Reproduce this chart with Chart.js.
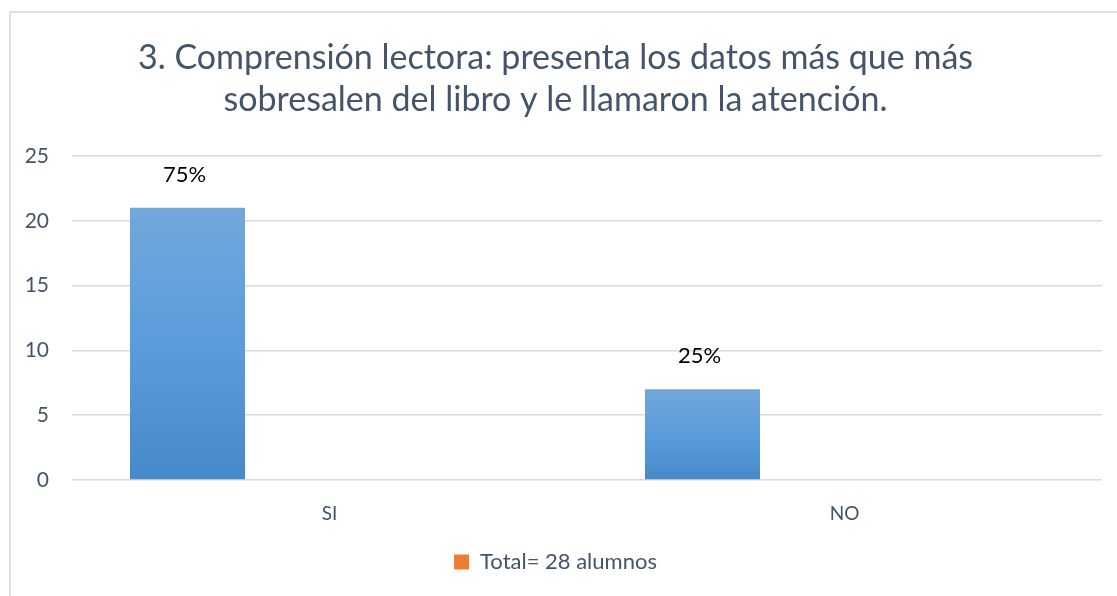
<!DOCTYPE html>
<html>
<head>
<meta charset="utf-8">
<script src="https://cdn.jsdelivr.net/npm/chart.js@4.4.1/dist/chart.umd.min.js"></script>
<style>
  html, body { margin: 0; padding: 0; background: #fff; overflow: hidden; width: 1117px; height: 596px; }
  #frame { position: absolute; left: 9px; top: 11px; width: 1120px; height: 600px; border-left: 2px solid #dde1e6; border-top: 2px solid #dde1e6; box-sizing: border-box; }
  #wrap { position: absolute; left: 9px; top: 11px; width: 1108px; height: 585px; }
</style>
</head>
<body>
<div id="frame"></div>
<div id="wrap"><canvas id="c"></canvas></div>
<script>
const titleLines = ["3. Comprensión lectora: presenta los datos más que más", "sobresalen del libro y le llamaron la atención."];
const categories = ["SI", "NO"];
const respuestas = [21, 7];
const porcentajes = ["75%", "25%"];
const totalLabel = "Total= 28 alumnos";
const totalValues = [null, null];
const yTicks = [0, 5, 10, 15, 20, 25];

const FONT = "Lato, 'Open Sans', sans-serif";
const TEXT = "#44546a";

function barGradient(context) {
  const chart = context.chart;
  const area = chart.chartArea;
  if (!area) return "#5b9bd5";
  const y = chart.scales.y;
  const v = context.raw;
  if (v == null) return "#5b9bd5";
  const top = y.getPixelForValue(v);
  const bottom = y.getPixelForValue(0);
  const g = chart.ctx.createLinearGradient(0, top, 0, bottom);
  g.addColorStop(0, "#72a7db");
  g.addColorStop(0.5, "#5a9cdc");
  g.addColorStop(1, "#4689c8");
  return g;
}

const labelPlugin = {
  id: "pctLabels",
  afterDatasetsDraw(chart) {
    const meta = chart.getDatasetMeta(0);
    const ctx = chart.ctx;
    ctx.save();
    ctx.font = "22px " + FONT;
    ctx.fillStyle = "#000";
    ctx.textAlign = "center";
    ctx.textBaseline = "middle";
    meta.data.forEach((bar, i) => {
      ctx.fillText(porcentajes[i], bar.x - 3, bar.y - 33);
    });
    ctx.restore();
  }
};

new Chart(document.getElementById("c"), {
  type: "bar",
  data: {
    labels: categories,
    datasets: [
      { label: "Respuestas", data: respuestas, backgroundColor: barGradient, borderWidth: 0 },
      { label: totalLabel, data: totalValues, backgroundColor: "#ed7d31", borderWidth: 0 }
    ]
  },
  options: {
    responsive: true,
    maintainAspectRatio: false,
    animation: false,
    categoryPercentage: 1.103,
    barPercentage: 0.405,
    layout: { padding: { left: 0, right: 15, top: 0, bottom: 13 } },
    plugins: {
      tooltip: { enabled: false },
      title: {
        display: true,
        text: titleLines,
        color: TEXT,
        font: { family: FONT, size: 34, weight: "normal", lineHeight: 1.235 },
        padding: { top: 26, bottom: 35 }
      },
      legend: {
        position: "bottom",
        labels: {
          filter: (item) => item.datasetIndex === 1,
          color: TEXT,
          font: { family: FONT, size: 22 },
          boxWidth: 15,
          boxHeight: 15,
          padding: 9
        }
      }
    },
    scales: {
      x: {
        grid: { display: false, drawTicks: false },
        border: { display: false },
        ticks: { color: TEXT, font: { family: FONT, size: 19 }, padding: 22 },
        afterFit(scale) { scale.height = 62; }
      },
      y: {
        min: 0,
        max: 25,
        afterBuildTicks(scale) { scale.ticks = yTicks.map(v => ({ value: v })); },
        grid: { color: "#d9d9d9", lineWidth: 1.5, drawTicks: false },
        border: { display: false },
        ticks: { color: TEXT, font: { family: FONT, size: 21 }, padding: 23 },
        afterFit(scale) { scale.width = 63; }
      }
    }
  },
  plugins: [labelPlugin]
});
</script>
</body>
</html>
